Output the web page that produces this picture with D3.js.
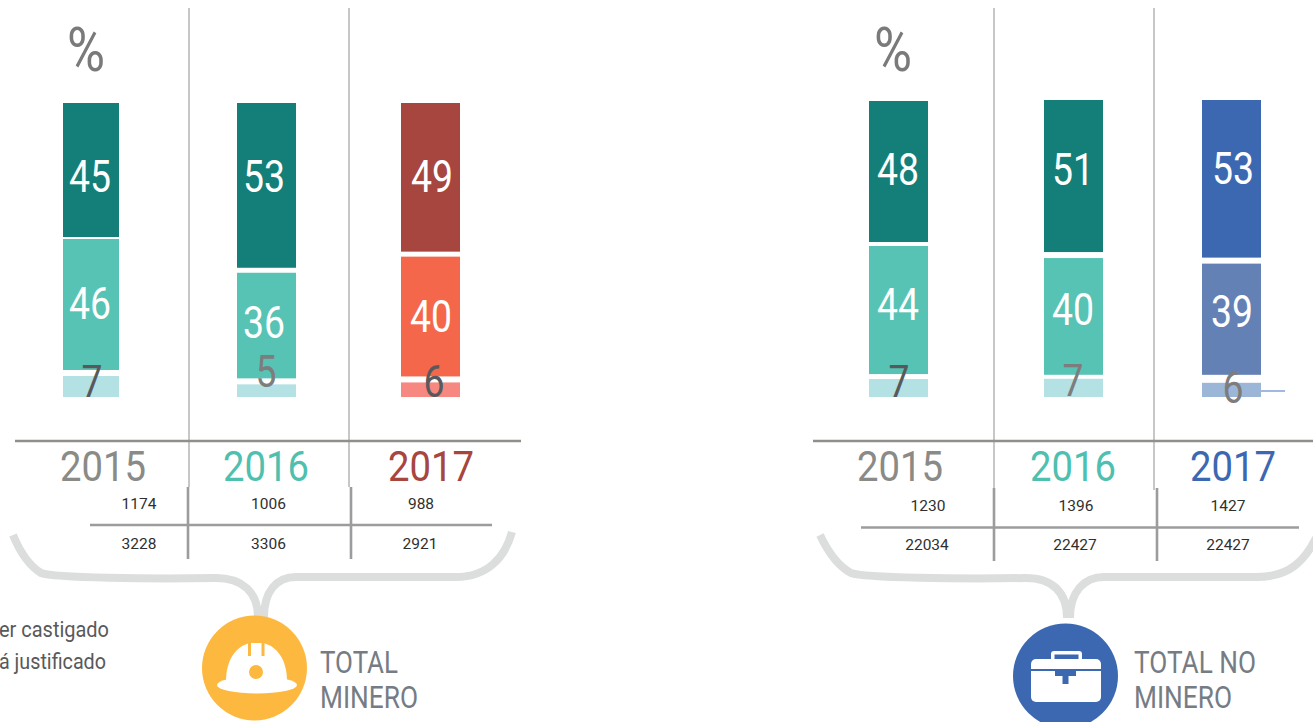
<!DOCTYPE html>
<html>
<head>
<meta charset="utf-8">
<script src="https://cdn.jsdelivr.net/npm/d3@7"></script>
<style>
	html, body { margin: 0; padding: 0; background: #fff; overflow: hidden; }
	svg { display: block; }
	text { font-family: Roboto, sans-serif; }
</style>
</head>
<body>
<svg id="chart" width="1313" height="722"></svg>
<script>
const years = ['2015', '2016', '2017'];

// share per year, top segment first
const mineroValues = [[45, 46, 7], [53, 36, 5], [49, 40, 6]];
const noMineroValues = [[48, 44, 7], [51, 40, 7], [53, 39, 6]];

const mineroCounts = [[1174, 1006, 988], [3228, 3306, 2921]];
const noMineroCounts = [[1230, 1396, 1427], [22034, 22427, 22427]];

const teal = ['#137f78', '#57c3b4', '#b3e1e4'];
const red = ['#a7453f', '#f4674b', '#f68781'];
const blue = ['#3c68b1', '#6381b4', '#9cb6d7'];

const panels = [
	{
		values: mineroValues, counts: mineroCounts,
		colors: [teal, teal, red],
		yearColors: ['#8a8a87', '#4fbfb0', '#a7453f'],
		barX: [63, 237, 401], barW: [56, 59, 59], top: [103, 103, 103],
		insets: [[1, 1, 6, 0], [1, 4, 3, 3], [3, 2, 2, 4]],
		labelX: [[90, 90, 92], [264, 264, 266], [432, 431, 434]],
		labelY: [[176, 303, 381], [176, 322, 371], [176, 316, 381]],
		smallColors: ['#58595b', '#7d7d7d', '#58595b'],
		yearX: [103, 266, 431],
		percentX: 86,
		thinX: [189, 349], thinEnd: [487, 487],
		baseX: [15, 521],
		tableX: [188, 351], tableY: [487, 559], tableRule: { y: 525, x: [90, 492] },
		countX: [[139, 268.5, 421], [139, 268.5, 420]], countY: [503, 543],
		brace: 'M13,535 C20,552 28,565 41,573 C55,578 150,579 216,578 C242,578 258,592 258,617 M264,617 C264,592 276,577 296,577 L456,577 C488,577 505,557 512,532',
		circle: { x: 254.5, y: 668, r: 52.5, fill: '#fdb93f' },
		titleX: 320, title: [['TOTAL', 78], ['MINERO', 98]],
	},
	{
		values: noMineroValues, counts: noMineroCounts,
		colors: [teal, teal, blue],
		yearColors: ['#8a8a87', '#4fbfb0', '#3c68b1'],
		barX: [869, 1044, 1202], barW: [59, 59, 59], top: [101, 100, 100],
		insets: [[2.5, 1.5, 2, 3], [2.5, 3.5, 1, 3], [3, 3, 4, 4]],
		labelX: [[898, 898, 899], [1073, 1073, 1073], [1233, 1232, 1233]],
		labelY: [[169, 304, 381], [169, 309, 380], [168, 311, 387]],
		smallColors: ['#58595b', '#7d7d7d', '#7d7d7d'],
		yearX: [900, 1073, 1233],
		percentX: 893,
		thinX: [994, 1154], thinEnd: [488, 490],
		baseX: [813, 1313],
		tableX: [994, 1157], tableY: [488, 561], tableRule: { y: 527.5, x: [861, 1299] },
		countX: [[928, 1076, 1228], [927, 1075, 1228]], countY: [505, 544],
		brace: 'M820,535 C828,552 838,566 851,573 C865,578 960,579 1026,578 C1052,578 1067,592 1067,618 M1070,618 C1070,592 1084,577 1104,577 L1257,577 C1290,577 1305,560 1316,538',
		circle: { x: 1065.5, y: 676, r: 52.5, fill: '#3c68b1' },
		titleX: 1134, title: [['TOTAL NO', 122], ['MINERO', 98]],
	},
];

const svg = d3.select('#chart');
const baseY = 397;

// no condensed face installed, so squeeze Roboto to the measured width
function squeezed (g, str, x, y, size, width, fill, anchor = 'middle', weight = 400) {
	return g.append('text')
		.attr('x', x)
		.attr('y', y)
		.attr('font-size', size)
		.attr('font-weight', weight)
		.attr('fill', fill)
		.attr('text-anchor', anchor)
		.attr('textLength', width)
		.attr('lengthAdjust', 'spacingAndGlyphs')
		.text(str);
}

function drawBars (g, p) {
	p.values.forEach((vals, i) => {
		const x = d3.scaleOrdinal(years, p.barX);
		const sum = d3.sum(vals);
		const y = d3.scaleLinear([0, sum], [p.top[i], baseY]);
		const stack = d3.cumsum(vals);
		const inset = p.insets[i];

		g.append('g').selectAll('rect')
			.data(vals)
			.join('rect')
			.attr('x', x(years[i]))
			.attr('width', p.barW[i])
			.attr('y', (d, j) => j === 0 ? y(0) : y(stack[j - 1]) + inset[j * 2 - 1])
			.attr('height', (d, j) => {
				const y0 = j === 0 ? y(0) : y(stack[j - 1]) + inset[j * 2 - 1];
				const y1 = j === 2 ? baseY : y(stack[j]) - inset[j * 2];
				return y1 - y0;
			})
			.attr('fill', (d, j) => p.colors[i][j]);

		vals.forEach((v, j) => {
			const fill = j === 2 ? p.smallColors[i] : '#fff';
			squeezed(g, v, p.labelX[i][j], p.labelY[i][j] + 16, 45, v < 10 ? 21 : 42, fill);
		});
	});
}

function drawFrame (g, p) {
	p.thinX.forEach((x, i) => {
		g.append('line')
			.attr('x1', x).attr('x2', x)
			.attr('y1', 8).attr('y2', p.thinEnd[i])
			.attr('stroke', '#8f8f8f').attr('stroke-width', 1);
	});
	g.append('line')
		.attr('x1', p.baseX[0]).attr('x2', p.baseX[1])
		.attr('y1', 441).attr('y2', 441)
		.attr('stroke', '#8f8f8c').attr('stroke-width', 2.6);

	years.forEach((yr, i) => {
		squeezed(g, yr, p.yearX[i], 481, 42, 86, p.yearColors[i]);
	});
	squeezed(g, '%', p.percentX, 71, 62, 38, '#7a7a7a', 'middle', 400);

	p.tableX.forEach(x => {
		g.append('line')
			.attr('x1', x).attr('x2', x)
			.attr('y1', p.tableY[0]).attr('y2', p.tableY[1])
			.attr('stroke', '#9b9c9e').attr('stroke-width', 2.6);
	});
	g.append('line')
		.attr('x1', p.tableRule.x[0]).attr('x2', p.tableRule.x[1])
		.attr('y1', p.tableRule.y).attr('y2', p.tableRule.y)
		.attr('stroke', '#9b9c9e').attr('stroke-width', 2.6);

	p.counts.forEach((row, r) => {
		g.append('g').selectAll('text')
			.data(row)
			.join('text')
			.attr('x', (d, i) => p.countX[r][i])
			.attr('y', p.countY[r] + 5.5)
			.attr('text-anchor', 'middle')
			.attr('font-size', 15.5)
			.attr('fill', '#2f2f2f')
			.text(d => d);
	});

	g.append('path')
		.attr('d', p.brace)
		.attr('fill', 'none')
		.attr('stroke', '#dcdedd')
		.attr('stroke-width', 8);

	g.append('circle')
		.attr('cx', p.circle.x).attr('cy', p.circle.y).attr('r', p.circle.r)
		.attr('fill', p.circle.fill);

	p.title.forEach(([str, w], i) => {
		g.append('text')
			.attr('x', p.titleX)
			.attr('y', 673 + i * 35)
			.attr('font-size', 32)
			.attr('fill', '#767c84')
			.attr('textLength', w)
			.attr('lengthAdjust', 'spacingAndGlyphs')
			.text(str);
	});
}

function drawHelmet (g) {
	g.append('path')
		.attr('d', 'M226,681 C226,660 236,646 250,643 L263,643 C277,646 287,660 287,681 Z')
		.attr('fill', '#fff');
	g.append('ellipse')
		.attr('cx', 257).attr('cy', 685).attr('rx', 40).attr('ry', 8.5)
		.attr('fill', '#fff');
	g.append('circle')
		.attr('cx', 256).attr('cy', 672).attr('r', 7)
		.attr('fill', '#fdb93f');
	[249.5, 263].forEach(x => {
		g.append('line')
			.attr('x1', x).attr('x2', x)
			.attr('y1', 641).attr('y2', 656)
			.attr('stroke', '#fdb93f').attr('stroke-width', 3);
	});
}

function drawBriefcase (g) {
	const c = '#3c68b1';
	g.append('rect').attr('x', 1051).attr('y', 651).attr('width', 31).attr('height', 12).attr('rx', 3).attr('fill', '#fff');
	g.append('rect').attr('x', 1054.5).attr('y', 654.5).attr('width', 24).attr('height', 6).attr('fill', c);
	g.append('rect').attr('x', 1031).attr('y', 659).attr('width', 70).attr('height', 43).attr('rx', 5).attr('fill', '#fff');
	g.append('rect').attr('x', 1031).attr('y', 669).attr('width', 70).attr('height', 2).attr('fill', c);
	g.append('rect').attr('x', 1055).attr('y', 671).attr('width', 21).attr('height', 5).attr('fill', c);
	g.append('rect').attr('x', 1062.5).attr('y', 676).attr('width', 6).attr('height', 8).attr('fill', c);
}

panels.forEach(p => {
	const g = svg.append('g');
	drawFrame(g, p);
	drawBars(g, p);
});
drawHelmet(svg.append('g'));
drawBriefcase(svg.append('g'));

// leader next to the 2017 no-minero small segment
svg.append('line')
	.attr('x1', 1261).attr('x2', 1285)
	.attr('y1', 391).attr('y2', 391)
	.attr('stroke', '#7a9ad0').attr('stroke-width', 1.4);

// legend remnant cut off by the left edge
squeezed(svg, 'er castigado', 109, 637, 22, 110, '#58595b', 'end');
squeezed(svg, 'á justificado', 106, 669, 22, 107, '#58595b', 'end');
</script>
</body>
</html>
